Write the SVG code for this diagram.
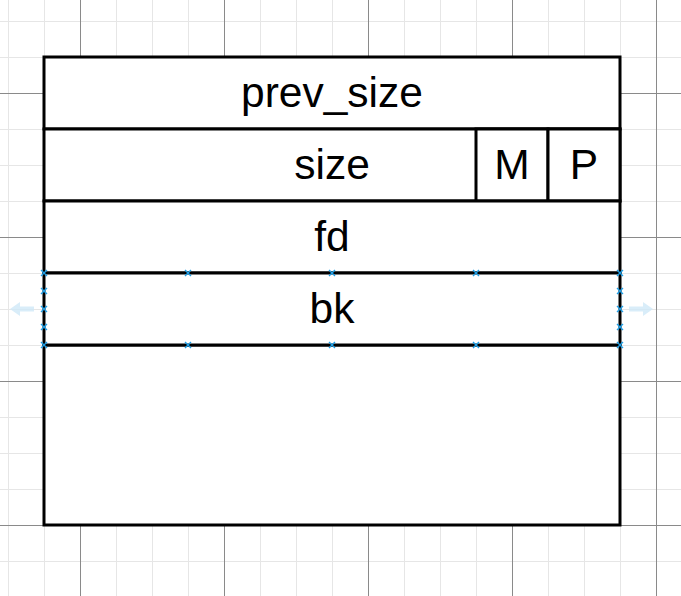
<svg xmlns="http://www.w3.org/2000/svg" width="681" height="596" viewBox="0 0 681 596">
  <defs>
    <g id="xm">
      <path d="M-3 -3L3 3M-3 3L3 -3" fill="none" stroke="#1fa0e8" stroke-width="1.4"/>
    </g>
  </defs>
  <style>
    .minor { fill: none; stroke: #e6e6e6; stroke-width: 1; }
    .major { fill: none; stroke: #8a8a8a; stroke-width: 1; }
    .cell { fill: #ffffff; stroke: #000000; stroke-width: 3; }
    .lbl { font-family: "Liberation Sans", Arial, sans-serif; font-size: 42.5px; fill: #000000; text-anchor: middle; }
    .hint { fill: #cfe8f8; opacity: 0.8; }
  </style>
  <rect x="0" y="0" width="681" height="596" fill="#ffffff"/>
  <g id="grid">
    <path class="minor" d="M8.5 0V596M44.5 0V596M116.5 0V596M152.5 0V596M188.5 0V596M260.5 0V596M296.5 0V596M332.5 0V596M404.5 0V596M440.5 0V596M476.5 0V596M548.5 0V596M584.5 0V596M620.5 0V596"/>
    <path class="minor" d="M0 21.5H681M0 57.5H681M0 129.5H681M0 165.5H681M0 201.5H681M0 273.5H681M0 309.5H681M0 345.5H681M0 417.5H681M0 453.5H681M0 489.5H681M0 561.5H681"/>
    <path class="major" d="M80.5 0V596M224.5 0V596M368.5 0V596M512.5 0V596M656.5 0V596M0 93.5H681M0 237.5H681M0 381.5H681M0 525.5H681"/>
  </g>

  <g id="body">
    <rect class="cell" x="44" y="345" width="576" height="180"/>
  </g>
  <g id="prev_size">
    <rect class="cell" x="44" y="57" width="576" height="72"/>
    <text class="lbl" x="332" y="107">prev_size</text>
  </g>
  <g id="size">
    <rect class="cell" x="44" y="129" width="576" height="72"/>
    <text class="lbl" x="332" y="179">size</text>
  </g>
  <g id="M">
    <rect class="cell" x="476" y="129" width="72" height="72"/>
    <text class="lbl" x="512" y="179">M</text>
  </g>
  <g id="P">
    <rect class="cell" x="548" y="129" width="72" height="72"/>
    <text class="lbl" x="584" y="179">P</text>
  </g>
  <g id="fd">
    <rect class="cell" x="44" y="201" width="576" height="72"/>
    <text class="lbl" x="332" y="251">fd</text>
  </g>
  <g id="bk">
    <rect class="cell" x="44" y="273" width="576" height="72"/>
    <text class="lbl" x="332" y="323">bk</text>
  </g>

  <g id="connectors"></g>

  <g id="hover-hints">
    <use href="#xm" x="44" y="273"/><use href="#xm" x="188" y="273"/><use href="#xm" x="332" y="273"/><use href="#xm" x="476" y="273"/><use href="#xm" x="620" y="273"/>
    <use href="#xm" x="44" y="345"/><use href="#xm" x="188" y="345"/><use href="#xm" x="332" y="345"/><use href="#xm" x="476" y="345"/><use href="#xm" x="620" y="345"/>
    <use href="#xm" x="44" y="291"/><use href="#xm" x="44" y="309"/><use href="#xm" x="44" y="327"/>
    <use href="#xm" x="620" y="291"/><use href="#xm" x="620" y="309"/><use href="#xm" x="620" y="327"/>
    <path class="hint" d="M10 309L20 302V306.5H34V311.5H20V316Z"/>
    <path class="hint" d="M653 309L643 302V306.5H629V311.5H643V316Z"/>
  </g>
</svg>
